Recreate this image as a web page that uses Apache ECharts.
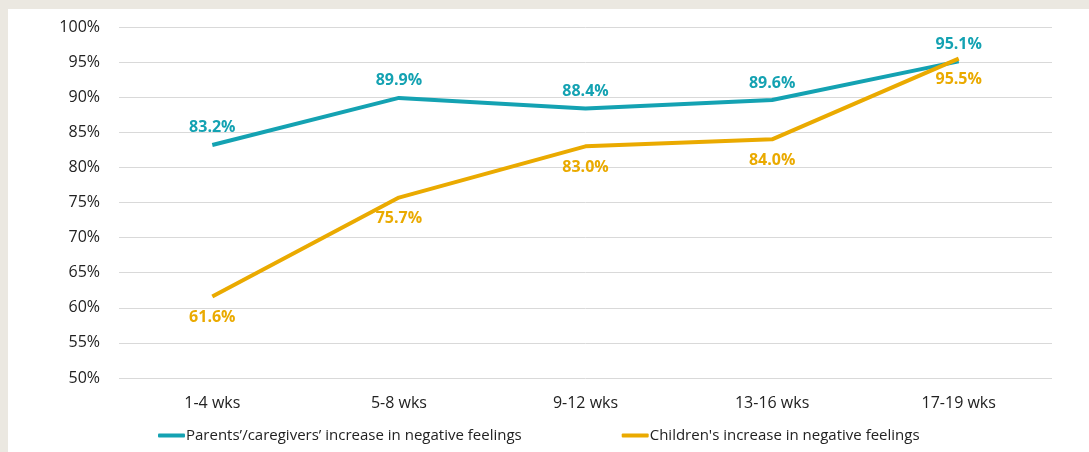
<!DOCTYPE html>
<html><head><meta charset="utf-8">
<script src="https://cdn.jsdelivr.net/npm/echarts@6/dist/echarts.min.js"></script>
<style>
html,body{margin:0;padding:0;background:#EBE8E1;width:1089px;height:452px;overflow:hidden;}
#panel{position:absolute;left:8px;top:9px;width:1081px;height:443px;background:#fff;}
#chart{position:absolute;left:0;top:0;width:1089px;height:452px;}
</style></head>
<body>
<div id="panel"></div>
<div id="chart"></div>
<script>
const categories = ['1-4 wks','5-8 wks','9-12 wks','13-16 wks','17-19 wks'];
const parentsValues = [83.2, 89.9, 88.4, 89.6, 95.1];
const childrenValues = [61.6, 75.7, 83.0, 84.0, 95.5];
const seriesNames = ['Parents\u2019/caregivers\u2019 increase in negative feelings', "Children's increase in negative feelings"];
const teal = '#14A2B2', gold = '#EAAA00';
const font = 'Open Sans';
const chart = echarts.init(document.getElementById('chart'));
chart.setOption({
  backgroundColor: 'transparent',
  animation: false,
  textStyle: {fontFamily: font},
  grid: {left: 119, right: 37, top: 27, bottom: 74},
  xAxis: {
    type: 'category', data: categories, boundaryGap: true,
    axisLine: {show: false}, axisTick: {show: false},
    axisLabel: {color: '#222', fontSize: 16, margin: 17, fontFamily: font}
  },
  yAxis: {
    type: 'value', min: 50, max: 100, interval: 5,
    axisLine: {show: false}, axisTick: {show: false},
    axisLabel: {color: '#222', fontSize: 16, margin: 19, formatter: v => v + '%', fontFamily: font},
    splitLine: {lineStyle: {color: '#D9D9D9', width: 1}}
  },
  legend: {
    bottom: 4, left: 153, itemGap: 100, itemWidth: 27, itemHeight: 4,
    textStyle: {color: '#222', fontSize: 15, fontFamily: font, padding: [0, 0, 0, -4]},
    data: seriesNames.map(n => ({name: n, icon: 'roundRect'}))
  },
  series: [
    {name: seriesNames[0], type: 'line', data: parentsValues, symbol: 'circle', symbolSize: 0, showSymbol: true,
     lineStyle: {color: teal, width: 4}, itemStyle: {color: teal},
     label: {show: true, position: 'top', distance: 9, color: teal, fontWeight: 'bold', fontSize: 16, formatter: p => p.value.toFixed(1) + '%', fontFamily: font}},
    {name: seriesNames[1], type: 'line', data: childrenValues, symbol: 'circle', symbolSize: 0, showSymbol: true,
     lineStyle: {color: gold, width: 4}, itemStyle: {color: gold},
     label: {show: true, position: 'bottom', distance: 13, color: gold, fontWeight: 'bold', fontSize: 16, formatter: p => p.value.toFixed(1) + '%', fontFamily: font}}
  ]
});
</script>
</body></html>
